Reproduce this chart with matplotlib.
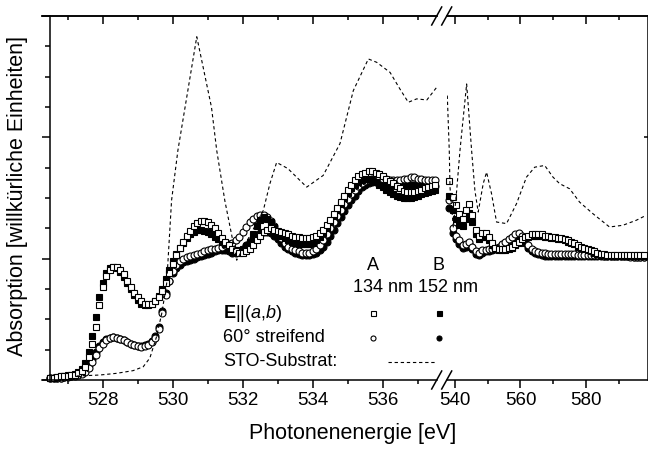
import numpy as np
import matplotlib
matplotlib.use("Agg")
import matplotlib.pyplot as plt
from matplotlib.lines import Line2D
from matplotlib.ticker import MultipleLocator, FixedLocator

plt.rcParams['font.family'] = ['Liberation Sans', 'DejaVu Sans']
plt.rcParams['mathtext.fontset'] = 'custom'
plt.rcParams['mathtext.rm'] = 'Liberation Sans'
plt.rcParams['mathtext.it'] = 'Liberation Sans:italic'
plt.rcParams['mathtext.bf'] = 'Liberation Sans:bold'

# ---- data, left part (O K pre-edge, 0.1 eV grid) ----
E_left = np.round(np.arange(526.5, 537.55, 0.1), 2)

A_par_left = [0.02, 0.02, 0.025, 0.03, 0.03, 0.035, 0.04, 0.045, 0.055, 0.075,
              0.11, 0.19, 0.30, 0.44, 0.62, 0.77, 0.86, 0.91, 0.93, 0.93,
              0.91, 0.87, 0.82, 0.77, 0.72, 0.68, 0.65, 0.63, 0.63, 0.63,
              0.65, 0.68, 0.73, 0.80, 0.88, 0.96, 1.03, 1.09, 1.14, 1.19,
              1.23, 1.27, 1.29, 1.31, 1.31, 1.30, 1.28, 1.25, 1.21, 1.17,
              1.14, 1.11, 1.08, 1.06, 1.05, 1.05, 1.06, 1.08, 1.11, 1.15,
              1.19, 1.22, 1.24, 1.25, 1.24, 1.23, 1.22, 1.21, 1.20, 1.19,
              1.18, 1.18, 1.17, 1.17, 1.17, 1.18, 1.19, 1.21, 1.24, 1.28,
              1.32, 1.37, 1.42, 1.47, 1.52, 1.57, 1.61, 1.65, 1.68, 1.70,
              1.71, 1.72, 1.72, 1.71, 1.70, 1.68, 1.66, 1.64, 1.62, 1.60,
              1.58, 1.56, 1.55, 1.55, 1.55, 1.56, 1.57, 1.58, 1.59, 1.60,
              1.61]
B_par_left = [0.02, 0.02, 0.025, 0.03, 0.035, 0.04, 0.045, 0.05, 0.065, 0.09,
              0.14, 0.23, 0.36, 0.52, 0.68, 0.80, 0.88, 0.92, 0.93, 0.92,
              0.89, 0.85, 0.80, 0.75, 0.70, 0.66, 0.63, 0.62, 0.62, 0.63,
              0.65, 0.69, 0.75, 0.83, 0.91, 0.98, 1.04, 1.09, 1.13, 1.17,
              1.20, 1.22, 1.24, 1.24, 1.23, 1.22, 1.20, 1.18, 1.16, 1.14,
              1.12, 1.10, 1.08, 1.07, 1.07, 1.08, 1.10, 1.14, 1.20, 1.27,
              1.32, 1.34, 1.33, 1.30, 1.26, 1.22, 1.19, 1.17, 1.15, 1.14,
              1.13, 1.12, 1.12, 1.12, 1.12, 1.13, 1.15, 1.18, 1.21, 1.25,
              1.30, 1.35, 1.40, 1.45, 1.50, 1.54, 1.58, 1.61, 1.63, 1.65,
              1.66, 1.66, 1.65, 1.63, 1.61, 1.59, 1.57, 1.55, 1.53, 1.52,
              1.51, 1.50, 1.50, 1.50, 1.51, 1.52, 1.53, 1.54, 1.55, 1.56,
              1.57]
A_60_left = [0.015, 0.015, 0.02, 0.02, 0.025, 0.025, 0.03, 0.035, 0.04, 0.05,
             0.07, 0.10, 0.15, 0.21, 0.26, 0.30, 0.33, 0.35, 0.355, 0.35,
             0.34, 0.33, 0.31, 0.30, 0.29, 0.28, 0.275, 0.28, 0.29, 0.31,
             0.35, 0.42, 0.55, 0.70, 0.82, 0.90, 0.95, 0.98, 1.00, 1.01,
             1.02, 1.03, 1.04, 1.05, 1.06, 1.07, 1.08, 1.08, 1.09, 1.10,
             1.11, 1.12, 1.13, 1.15, 1.18, 1.22, 1.26, 1.30, 1.33, 1.35,
             1.36, 1.36, 1.34, 1.31, 1.27, 1.22, 1.17, 1.13, 1.10, 1.08,
             1.07, 1.06, 1.05, 1.05, 1.05, 1.06, 1.08, 1.11, 1.15, 1.20,
             1.25, 1.30, 1.35, 1.40, 1.45, 1.49, 1.53, 1.57, 1.60, 1.62,
             1.64, 1.65, 1.66, 1.66, 1.66, 1.66, 1.66, 1.65, 1.65, 1.65,
             1.65, 1.66, 1.66, 1.67, 1.67, 1.66, 1.66, 1.65, 1.65, 1.65,
             1.65]
B_60_left = [0.015, 0.015, 0.02, 0.02, 0.025, 0.03, 0.035, 0.04, 0.05, 0.06,
             0.08, 0.12, 0.17, 0.23, 0.28, 0.31, 0.34, 0.35, 0.355, 0.35,
             0.34, 0.33, 0.31, 0.30, 0.29, 0.28, 0.28, 0.285, 0.30, 0.32,
             0.36, 0.44, 0.57, 0.72, 0.82, 0.88, 0.92, 0.95, 0.97, 0.98,
             0.99, 1.00, 1.01, 1.02, 1.03, 1.04, 1.05, 1.06, 1.07, 1.07,
             1.07, 1.06, 1.05, 1.05, 1.06, 1.08, 1.11, 1.14, 1.17, 1.19,
             1.21, 1.22, 1.22, 1.21, 1.19, 1.16, 1.13, 1.10, 1.08, 1.06,
             1.05, 1.04, 1.03, 1.03, 1.03, 1.04, 1.05, 1.07, 1.10, 1.14,
             1.19, 1.24, 1.29, 1.34, 1.39, 1.44, 1.48, 1.52, 1.56, 1.59,
             1.61, 1.62, 1.63, 1.63, 1.63, 1.62, 1.62, 1.61, 1.61, 1.60,
             1.60, 1.60, 1.61, 1.61, 1.61, 1.61, 1.61, 1.61, 1.60, 1.60,
             1.60]

# ---- data, right part (1 eV grid) ----
E_right = np.round(np.arange(538.4, 598.0, 1.0), 2)

A_par_right = [1.64, 1.51, 1.44, 1.37, 1.33, 1.40, 1.45, 1.36, 1.24, 1.19,
               1.21, 1.21, 1.18, 1.13, 1.09, 1.08, 1.08, 1.08, 1.09, 1.10,
               1.12, 1.14, 1.16, 1.18, 1.19, 1.20, 1.20, 1.20, 1.20, 1.19,
               1.19, 1.18, 1.18, 1.17, 1.17, 1.16, 1.15, 1.14, 1.13, 1.11,
               1.10, 1.09, 1.08, 1.07, 1.06, 1.05, 1.04, 1.04, 1.03, 1.03,
               1.03, 1.03, 1.03, 1.03, 1.03, 1.03, 1.03, 1.03, 1.03, 1.03]
B_par_right = [1.52, 1.40, 1.33, 1.28, 1.27, 1.33, 1.38, 1.30, 1.20, 1.16,
               1.18, 1.18, 1.15, 1.11, 1.08, 1.07, 1.07, 1.07, 1.08, 1.09,
               1.11, 1.13, 1.15, 1.17, 1.18, 1.19, 1.19, 1.19, 1.19, 1.18,
               1.18, 1.17, 1.17, 1.16, 1.16, 1.15, 1.14, 1.13, 1.12, 1.10,
               1.09, 1.08, 1.07, 1.06, 1.05, 1.04, 1.03, 1.03, 1.02, 1.02,
               1.02, 1.02, 1.02, 1.02, 1.02, 1.02, 1.02, 1.02, 1.02, 1.02]
A_60_right = [1.48, 1.25, 1.19, 1.15, 1.11, 1.12, 1.14, 1.10, 1.06, 1.05,
              1.07, 1.075, 1.08, 1.08, 1.09, 1.10, 1.12, 1.14, 1.16, 1.18,
              1.20, 1.21, 1.19, 1.15, 1.11, 1.08, 1.065, 1.055, 1.05, 1.045,
              1.04, 1.04, 1.04, 1.04, 1.04, 1.04, 1.04, 1.04, 1.035, 1.03,
              1.03, 1.03, 1.03, 1.03, 1.03, 1.03, 1.03, 1.025, 1.02, 1.02,
              1.02, 1.02, 1.02, 1.02, 1.02, 1.015, 1.01, 1.01, 1.01, 1.01]
B_60_right = [1.42, 1.21, 1.16, 1.12, 1.09, 1.10, 1.12, 1.08, 1.04, 1.03,
              1.05, 1.06, 1.065, 1.07, 1.08, 1.09, 1.11, 1.13, 1.15, 1.17,
              1.19, 1.20, 1.18, 1.13, 1.09, 1.06, 1.045, 1.035, 1.03, 1.025,
              1.02, 1.02, 1.02, 1.02, 1.02, 1.02, 1.02, 1.02, 1.02, 1.02,
              1.02, 1.02, 1.02, 1.02, 1.02, 1.02, 1.02, 1.02, 1.02, 1.02,
              1.02, 1.02, 1.02, 1.02, 1.02, 1.02, 1.01, 1.01, 1.01, 1.01]

# ---- STO substrate reference (dashed) ----
E_sto_left = [527.26, 527.92, 528.40, 528.87, 529.16, 529.35, 529.54, 529.69,
              529.83, 529.97, 530.15, 530.69, 531.11, 531.26, 531.49, 531.83,
              532.59, 532.78, 532.97, 533.29, 533.83, 534.30, 534.78, 535.16,
              535.59, 535.83, 536.21, 536.49, 536.73, 536.97, 537.26, 537.54]
sto_left = [0.033, 0.041, 0.055, 0.077, 0.109, 0.181, 0.356, 0.549,
            0.795, 1.480, 1.891, 2.829, 2.248, 1.891, 1.480, 0.987,
            1.398, 1.620, 1.793, 1.743, 1.590, 1.686, 1.949, 2.385,
            2.646, 2.618, 2.535, 2.399, 2.289, 2.317, 2.308, 2.412]
E_sto_right = [537.76, 538.36, 538.58, 539.58, 540.61, 541.61, 542.12, 543.64,
               545.15, 546.15, 547.15, 548.67, 549.70, 551.21, 552.73, 555.76,
               558.79, 561.82, 564.33, 567.36, 569.88, 571.91, 574.94, 577.97,
               582.0, 587.06, 591.09, 595.15, 598.18]
sto_right = [2.344, 1.891, 1.590, 1.261, 1.562, 1.891, 2.031, 2.440,
             1.891, 1.562, 1.384, 1.618, 1.713, 1.535, 1.302, 1.289,
             1.453, 1.672, 1.754, 1.768, 1.672, 1.618, 1.576, 1.466,
             1.371, 1.261, 1.275, 1.316, 1.357]

W, H = 648, 451
def fx(px):
    return px / W
def fy(py):
    return 1 - py / H

fig = plt.figure(figsize=(6.48, 4.51), dpi=100)
y0, y1 = fy(380), fy(16)
ax1 = fig.add_axes([fx(42), y0, fx(437) - fx(42), y1 - y0])
ax2 = fig.add_axes([fx(447), y0, fx(647.5) - fx(447), y1 - y0])

ax1.set_xlim(526.27, 537.55)
ax2.set_xlim(537.67, 598.6)
for ax in (ax1, ax2):
    ax.set_ylim(0, 3)
    ax.patch.set_alpha(0)

sq = dict(marker='s', ms=4.6, mew=0.8, ls='none', clip_on=False)
ci = dict(marker='o', ms=5.0, mew=0.8, ls='none', clip_on=False)
for ax, E, bc, ac, bp, ap in [(ax1, E_left, B_60_left, A_60_left, B_par_left, A_par_left),
                              (ax2, E_right, B_60_right, A_60_right, B_par_right, A_par_right)]:
    ax.plot(E, bc, mfc='black', mec='black', **ci)
    ax.plot(E, ac, mfc='white', mec='black', **ci)
    ax.plot(E, bp, mfc='black', mec='black', **sq)
    ax.plot(E, ap, mfc='white', mec='black', **sq)

dash = dict(color='black', lw=0.8, ls=(0, (3, 2.5)))
ax1.plot(E_sto_left, sto_left, **dash)
ax2.plot(E_sto_right, sto_right, **dash)

# spines and ticks
lw = 1.1
for ax in (ax1, ax2):
    for s in ax.spines.values():
        s.set_linewidth(lw)
ax1.spines['right'].set_visible(False)
ax1.spines['left'].set_position(('data', 526.5))
ax2.spines['left'].set_visible(False)

ax1.xaxis.set_major_locator(FixedLocator([528, 530, 532, 534, 536]))
ax1.xaxis.set_minor_locator(FixedLocator([527, 529, 531, 533, 535, 537]))
ax2.xaxis.set_major_locator(FixedLocator([540, 560, 580]))
ax2.xaxis.set_minor_locator(FixedLocator([550, 570, 590]))
for ax in (ax1, ax2):
    ax.tick_params(axis='x', which='major', direction='out', length=5.8, width=lw,
                   labelsize=13.5, pad=3)
    ax.tick_params(axis='x', which='minor', direction='out', length=2.9, width=lw)
    top = ax.secondary_xaxis('top')
    top.xaxis.set_major_locator(FixedLocator(ax.get_xticks()))
    top.xaxis.set_minor_locator(FixedLocator(ax.xaxis.get_minorticklocs()))
    top.tick_params(which='major', direction='in', length=5.8, width=lw, labeltop=False)
    top.tick_params(which='minor', direction='in', length=2.9, width=lw)
    top.spines['top'].set_linewidth(lw)

ax1.yaxis.set_major_locator(MultipleLocator(1))
ax1.yaxis.set_minor_locator(MultipleLocator(0.25))
ax1.tick_params(axis='y', which='major', direction='out', length=5.8, width=lw, labelleft=False)
ax1.tick_params(axis='y', which='minor', direction='out', length=3.6, width=lw)
ax2.yaxis.set_major_locator(FixedLocator([1, 2]))
ax2.tick_params(axis='y', which='major', direction='in', length=3.0, width=lw,
                left=False, right=True, labelleft=False)

# axis break marks
for yb in (16, 380):
    for xb in (436.7, 446.7):
        fig.add_artist(Line2D([fx(xb - 5), fx(xb + 5)], [fy(yb + 9), fy(yb - 9)],
                              color='black', lw=lw))

fig.text(fx(353), fy(433), 'Photonenenergie [eV]', ha='center', va='center', fontsize=15.5)
fig.text(fx(17.5), fy(196), 'Absorption [willkürliche Einheiten]', rotation=90,
         ha='center', va='center', fontsize=15.5)

# legend table
fs = 13
fig.text(fx(373), fy(265), 'A', ha='center', va='center', fontsize=fs)
fig.text(fx(439), fy(265), 'B', ha='center', va='center', fontsize=fs)
fig.text(fx(353), fy(288), '134 nm 152 nm', ha='left', va='center', fontsize=fs)
fig.text(fx(223), fy(313), r'$\mathbf{E}$||($\mathit{a}$,$\mathit{b}$)', ha='left',
         va='center', fontsize=fs)
fig.text(fx(223), fy(338), '60° streifend', ha='left', va='center', fontsize=fs)
fig.text(fx(223), fy(362), 'STO-Substrat:', ha='left', va='center', fontsize=fs)
leg = [(373, 313, 's', 'white'), (439, 313, 's', 'black'),
       (373, 338, 'o', 'white'), (439, 338, 'o', 'black')]
for xp, yp, m, fc in leg:
    fig.add_artist(Line2D([fx(xp)], [fy(yp)], marker=m, ms=3.6, mfc=fc, mec='black', mew=0.8))
fig.add_artist(Line2D([fx(388), fx(435)], [fy(362), fy(362)], **dash))

fig.savefig('out.png', dpi=100)
